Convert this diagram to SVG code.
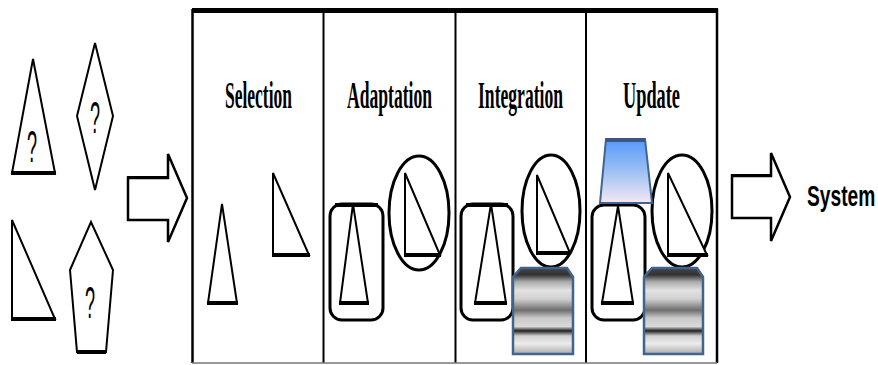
<svg xmlns="http://www.w3.org/2000/svg" width="878" height="365" viewBox="0 0 878 365">
<defs>
<linearGradient id="metal" x1="0" y1="0" x2="0" y2="1">
<stop offset="0" stop-color="#444"/>
<stop offset="0.08" stop-color="#333"/>
<stop offset="0.16" stop-color="#aaa"/>
<stop offset="0.26" stop-color="#e2e2e2"/>
<stop offset="0.36" stop-color="#d0d0d0"/>
<stop offset="0.49" stop-color="#6e6e6e"/>
<stop offset="0.58" stop-color="#c8c8c8"/>
<stop offset="0.68" stop-color="#dadada"/>
<stop offset="0.73" stop-color="#222"/>
<stop offset="0.79" stop-color="#d0d0d0"/>
<stop offset="0.88" stop-color="#ececec"/>
<stop offset="1" stop-color="#aaa"/>
</linearGradient>
<linearGradient id="blue" x1="0" y1="0" x2="0" y2="1">
<stop offset="0" stop-color="#5598fa"/>
<stop offset="0.5" stop-color="#9cc0f4"/>
<stop offset="1" stop-color="#f6e8f3"/>
</linearGradient>
<style>
.s{fill:#fff;stroke:#000;stroke-width:2;stroke-linejoin:miter}
.b{stroke:#000;stroke-width:4;fill:none}
.o{fill:#fff;stroke:#000;stroke-width:3}
.q{font-family:"Liberation Sans",Arial,sans-serif;font-size:45px;fill:#000}
.t{font-family:"Liberation Serif","Times New Roman",serif;font-size:38px;font-weight:bold;fill:#000}
.ln{stroke:#000;stroke-width:2;fill:none}
.gear{fill:url(#metal);stroke:#41638f;stroke-width:2.5}
.trap{fill:url(#blue);stroke:#41638f;stroke-width:2}
.arr{fill:#fff;stroke:#000;stroke-width:2.5;stroke-linejoin:miter}
</style>
</defs>

<g id="inputs">
<g id="in-triangle">
<polygon class="s" points="33,59 12,173 55,173"/>
<line class="b" x1="11" y1="173" x2="56" y2="173"/>
<text class="q" transform="translate(27,162) scale(0.4,1)">?</text>
</g>
<g id="in-diamond">
<polygon class="s" points="95,43 77,116 95,190 113,116"/>
<text class="q" transform="translate(90,133) scale(0.4,1)">?</text>
</g>
<g id="in-right-triangle">
<polygon class="s" points="12,220 12,319 55,319"/>
<line class="b" x1="11" y1="319" x2="56" y2="319"/>
</g>
<g id="in-pentagon">
<polygon class="s" points="91,222 70,270 77,352 106,352 113,270"/>
<line class="b" x1="77" y1="352" x2="106" y2="352"/>
<text class="q" transform="translate(85,318) scale(0.4,1)">?</text>
</g>
</g>

<g id="connectors">
<polygon class="arr" points="128,178 168,178 168,154 187,198 168,242 168,220 128,220"/>
<polyline class="ln" points="128,221 128,177 168,177" stroke-width="4"/>
<polygon class="arr" points="732,176 771,176 771,153 790,197 771,241 771,218 732,218"/>
<polyline class="ln" points="732,219 732,175 771,175" stroke-width="4"/>
</g>

<g id="process-box">
<line x1="192" y1="10.5" x2="718" y2="10.5" stroke="#000" stroke-width="5"/>
<line x1="192.5" y1="9" x2="192.5" y2="363" stroke="#000" stroke-width="2.5"/>
<line x1="323.5" y1="12" x2="323.5" y2="363" stroke="#000" stroke-width="2"/>
<line x1="455.5" y1="12" x2="455.5" y2="363" stroke="#000" stroke-width="2"/>
<line x1="586" y1="12" x2="586" y2="363" stroke="#000" stroke-width="2"/>
<line x1="717" y1="9" x2="717" y2="363" stroke="#000" stroke-width="2.5"/>
<line x1="192" y1="363" x2="717" y2="363" stroke="#777" stroke-width="1.5"/>
</g>

<g id="selection">
<text class="t" transform="translate(225,108) scale(0.46,1)">Selection</text>
<polygon class="s" points="222,204 208,303 237,303"/>
<line class="b" x1="207" y1="303" x2="238" y2="303"/>
<polygon class="s" points="273,173 273,255 309,255"/>
<line class="b" x1="272" y1="255" x2="310" y2="255"/>
</g>

<g id="adaptation">
<text class="t" transform="translate(347,108) scale(0.463,1)">Adaptation</text>
<rect class="o" x="330" y="204" width="53" height="116" rx="12"/>
<line class="b" x1="335" y1="205" x2="378" y2="205"/>
<polygon class="s" points="353,204 340,303 368,303"/>
<line class="b" x1="339" y1="303" x2="369" y2="303"/>
<ellipse class="o" cx="419" cy="213" rx="30" ry="57"/>
<polygon class="s" points="405,173 405,255 440,255"/>
<line class="b" x1="404" y1="255" x2="441" y2="255"/>
</g>

<g id="integration">
<text class="t" transform="translate(478,108) scale(0.463,1)">Integration</text>
<rect class="o" x="461" y="204" width="52" height="116" rx="12"/>
<line class="b" x1="466" y1="205" x2="508" y2="205"/>
<polygon class="s" points="491,204 475,303 506,303"/>
<line class="b" x1="474" y1="303" x2="507" y2="303"/>
<ellipse class="o" cx="551" cy="211" rx="29" ry="56"/>
<polygon class="s" points="537,175 537,253 570,253"/>
<line class="b" x1="536" y1="253" x2="571" y2="253"/>
<polygon class="gear" points="521,268 567,268 573,277 573,354 513,354 513,277"/>
</g>

<g id="update">
<text class="t" transform="translate(623,108) scale(0.482,1)">Update</text>
<rect class="o" x="592" y="205" width="53" height="115" rx="12"/>
<polygon class="s" points="618,206 602,303 633,303"/>
<line class="b" x1="601" y1="303" x2="634" y2="303"/>
<ellipse class="o" cx="682" cy="211" rx="30" ry="56"/>
<polygon class="s" points="668,173 668,255 707,255"/>
<line class="b" x1="667" y1="255" x2="708" y2="255"/>
<polygon class="trap" points="606,139 645,139 652,203 600,203"/>
<line x1="606" y1="140" x2="645" y2="140" stroke="#3a5688" stroke-width="4"/>
<polygon class="gear" points="652,268 697,268 703,277 703,354 644,354 644,277"/>
</g>

<g id="system">
<text transform="translate(807,206) scale(0.64,1)" font-family="'Liberation Sans',Arial,sans-serif" font-size="30" font-weight="bold" fill="#000">System</text>
</g>
</svg>
